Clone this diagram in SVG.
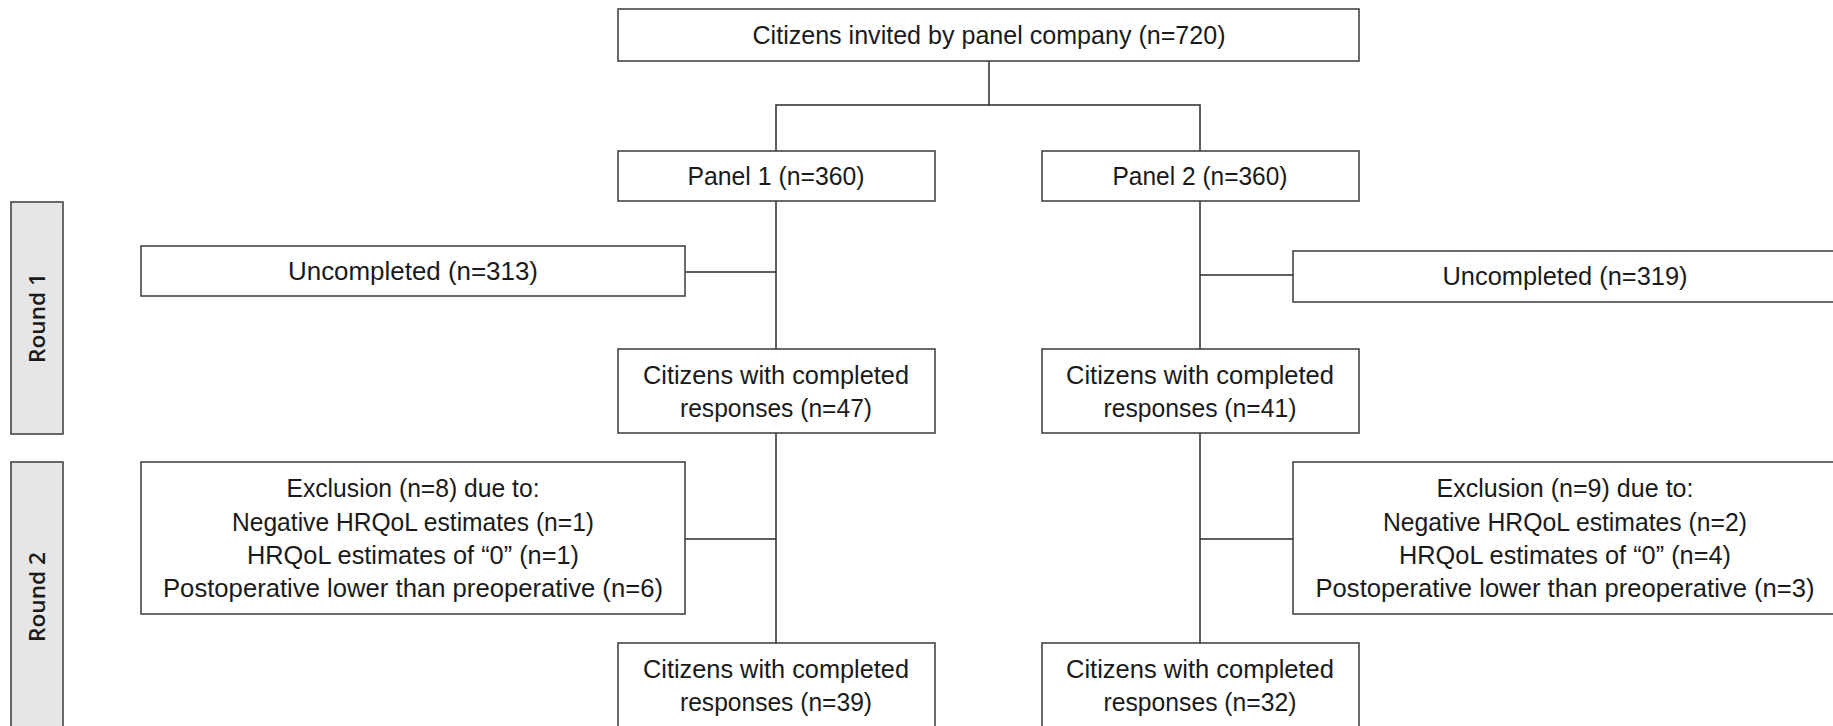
<svg xmlns="http://www.w3.org/2000/svg" width="1833" height="726" viewBox="0 0 1833 726">
<style>
.box{fill:#ffffff;stroke:#3a3a3a;stroke-width:1.5}
.rnd{fill:#e6e6e6;stroke:#3a3a3a;stroke-width:1.5}
.t{font-family:"Liberation Sans",Arial,sans-serif;font-size:25px;fill:#1a1a1a;text-anchor:middle}
.r{font-family:"Open Sans","DejaVu Sans",sans-serif;font-size:22px;font-weight:600;fill:#1a1a1a;text-anchor:middle}
.c{fill:none;stroke:#2a2a2a;stroke-width:1.5}
</style>
<rect width="1833" height="726" fill="#ffffff"/>
<g id="connectors">
<polyline class="c" points="989,61 989,105"/>
<polyline class="c" points="776,151 776,105 1200,105 1200,151"/>
<line class="c" x1="776" y1="201" x2="776" y2="349"/>
<line class="c" x1="776" y1="433" x2="776" y2="643"/>
<line class="c" x1="1200" y1="201" x2="1200" y2="349"/>
<line class="c" x1="1200" y1="433" x2="1200" y2="643"/>
<line class="c" x1="685" y1="272" x2="776" y2="272" stroke="#7a7a7a"/>
<line class="c" x1="1200" y1="275" x2="1293" y2="275" stroke="#7a7a7a"/>
<line class="c" x1="685" y1="539" x2="776" y2="539" stroke="#7a7a7a"/>
<line class="c" x1="1200" y1="539" x2="1293" y2="539" stroke="#7a7a7a"/>
</g>
<g id="round1">
<rect class="rnd" x="11" y="202" width="52" height="232"/>
<text class="r" transform="translate(45,318) rotate(-90)" textLength="90" lengthAdjust="spacingAndGlyphs">Round 1</text>
</g>
<g id="round2">
<rect class="rnd" x="11" y="462" width="52" height="280"/>
<text class="r" transform="translate(45,597) rotate(-90)" textLength="90" lengthAdjust="spacingAndGlyphs">Round 2</text>
</g>
<g id="invited">
<rect class="box" x="618" y="9" width="741" height="52"/>
<text class="t" x="989" y="44" textLength="473" lengthAdjust="spacingAndGlyphs">Citizens invited by panel company (n=720)</text>
</g>
<g id="panel1">
<rect class="box" x="618" y="151" width="317" height="50"/>
<text class="t" x="776" y="185" textLength="177" lengthAdjust="spacingAndGlyphs">Panel 1 (n=360)</text>
</g>
<g id="panel2">
<rect class="box" x="1042" y="151" width="317" height="50"/>
<text class="t" x="1200" y="185" textLength="175" lengthAdjust="spacingAndGlyphs">Panel 2 (n=360)</text>
</g>
<g id="uncompleted1">
<rect class="box" x="141" y="246" width="544" height="50"/>
<text class="t" x="413" y="280" textLength="250" lengthAdjust="spacingAndGlyphs">Uncompleted (n=313)</text>
</g>
<g id="uncompleted2">
<rect class="box" x="1293" y="251" width="544" height="51"/>
<text class="t" x="1565" y="285" textLength="245" lengthAdjust="spacingAndGlyphs">Uncompleted (n=319)</text>
</g>
<g id="completed1a">
<rect class="box" x="618" y="349" width="317" height="84"/>
<text class="t" x="776" y="384" textLength="266" lengthAdjust="spacingAndGlyphs">Citizens with completed</text>
<text class="t" x="776" y="417" textLength="192" lengthAdjust="spacingAndGlyphs">responses (n=47)</text>
</g>
<g id="completed2a">
<rect class="box" x="1042" y="349" width="317" height="84"/>
<text class="t" x="1200" y="384" textLength="268" lengthAdjust="spacingAndGlyphs">Citizens with completed</text>
<text class="t" x="1200" y="417" textLength="193" lengthAdjust="spacingAndGlyphs">responses (n=41)</text>
</g>
<g id="exclusion1">
<rect class="box" x="141" y="462" width="544" height="152"/>
<text class="t" x="413" y="497" textLength="253" lengthAdjust="spacingAndGlyphs">Exclusion (n=8) due to:</text>
<text class="t" x="413" y="531" textLength="362" lengthAdjust="spacingAndGlyphs">Negative HRQoL estimates (n=1)</text>
<text class="t" x="413" y="564" textLength="332" lengthAdjust="spacingAndGlyphs">HRQoL estimates of “0” (n=1)</text>
<text class="t" x="413" y="597" textLength="500" lengthAdjust="spacingAndGlyphs">Postoperative lower than preoperative (n=6)</text>
</g>
<g id="exclusion2">
<rect class="box" x="1293" y="462" width="544" height="152"/>
<text class="t" x="1565" y="497" textLength="257" lengthAdjust="spacingAndGlyphs">Exclusion (n=9) due to:</text>
<text class="t" x="1565" y="531" textLength="364" lengthAdjust="spacingAndGlyphs">Negative HRQoL estimates (n=2)</text>
<text class="t" x="1565" y="564" textLength="332" lengthAdjust="spacingAndGlyphs">HRQoL estimates of “0” (n=4)</text>
<text class="t" x="1565" y="597" textLength="499" lengthAdjust="spacingAndGlyphs">Postoperative lower than preoperative (n=3)</text>
</g>
<g id="completed1b">
<rect class="box" x="618" y="643" width="317" height="90"/>
<text class="t" x="776" y="678" textLength="266" lengthAdjust="spacingAndGlyphs">Citizens with completed</text>
<text class="t" x="776" y="711" textLength="192" lengthAdjust="spacingAndGlyphs">responses (n=39)</text>
</g>
<g id="completed2b">
<rect class="box" x="1042" y="643" width="317" height="90"/>
<text class="t" x="1200" y="678" textLength="268" lengthAdjust="spacingAndGlyphs">Citizens with completed</text>
<text class="t" x="1200" y="711" textLength="193" lengthAdjust="spacingAndGlyphs">responses (n=32)</text>
</g>
</svg>
